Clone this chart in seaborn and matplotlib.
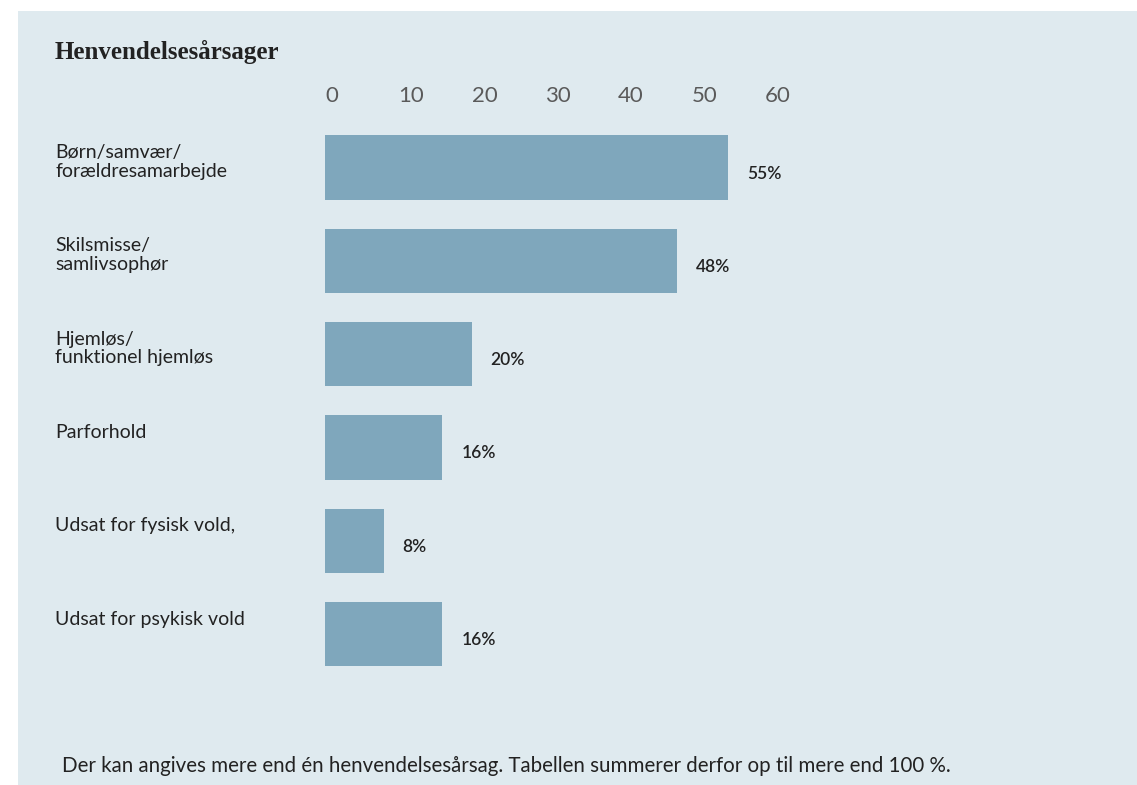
import matplotlib
matplotlib.use("Agg")
import matplotlib.pyplot as plt
import matplotlib.transforms as mtransforms
from matplotlib.patches import Rectangle
import seaborn as sns
import pandas as pd

# ---- data ----
categories = [
    "Børn/samvær/\nforældresamarbejde",
    "Skilsmisse/\nsamlivsophør",
    "Hjemløs/\nfunktionel hjemløs",
    "Parforhold",
    "Udsat for fysisk vold,",
    "Udsat for psykisk vold",
]
values = [55, 48, 20, 16, 8, 16]
value_labels = ["55%", "48%", "20%", "16%", "8%", "16%"]
tick_values = [0, 10, 20, 30, 40, 50, 60]
title = "Henvendelsesårsager"
note = "Der kan angives mere end én henvendelsesårsag. Tabellen summerer derfor op til mere end 100 %."

df = pd.DataFrame({"category": categories, "value": values})

# ---- style ----
sns.set_theme(style="white")
plt.rcParams["font.family"] = ["Lato", "DejaVu Sans"]

panel_color = "#dfeaef"
bar_color = "#7fa7bc"
text_color = "#222222"

W, H = 1137, 785
fig = plt.figure(figsize=(W / 100, H / 100), dpi=100)
fig.patch.set_facecolor("white")
fig.patches.append(Rectangle((18 / W, 0), 1 - 18 / W, 1 - 11 / H,
                             transform=fig.transFigure, facecolor=panel_color,
                             edgecolor="none", zorder=-10))

ax_left, ax_right = 325, 1058
ax_top, ax_bot = 120, 690
ax = fig.add_axes([ax_left / W, 1 - ax_bot / H, (ax_right - ax_left) / W, (ax_bot - ax_top) / H])
ax.set_facecolor("none")
ax.set_zorder(5)

sns.barplot(data=df, x="value", y="category", orient="h", color=bar_color,
            saturation=1, width=0.69, linewidth=0, edgecolor="none", ax=ax)
ax.set_xlim(0, 100)
ax.set_ylim(5.6, -0.509)
for s in ax.spines.values():
    s.set_visible(False)
ax.set_xlabel("")
ax.set_ylabel("")
ax.set_yticks([])

ax.xaxis.tick_top()
ax.set_xticks(tick_values)
ax.set_xticklabels([str(t) for t in tick_values])
ax.tick_params(axis="x", length=0, pad=10, labelsize=16, labelcolor="#5a5a5a")
for lbl in ax.get_xticklabels():
    lbl.set_ha("left")
    lbl.set_fontweight("normal")

# value labels
for i, (v, lab) in enumerate(zip(values, value_labels)):
    ax.text(v + 2.6, i + 0.065, lab, ha="left", va="center", fontsize=12.5,
            fontweight="semibold", color=text_color)

# category labels
trans = mtransforms.blended_transform_factory(fig.transFigure, ax.transData)
for i, c in enumerate(categories):
    ax.text(55 / W, i - 0.25, c, transform=trans, ha="left", va="top",
            fontsize=14, color=text_color, linespacing=1.12, clip_on=False)

# title
fig.text(55 / W, 1 - 59 / H, title, ha="left", va="baseline",
         fontsize=18, fontweight="bold", color=text_color,
         family=["Liberation Serif", "DejaVu Serif"])

# note
fig.text(62 / W, 1 - 772 / H, note, ha="left", va="baseline",
         fontsize=14.8, color=text_color)

fig.savefig("out.png", dpi=100, facecolor=fig.get_facecolor())
